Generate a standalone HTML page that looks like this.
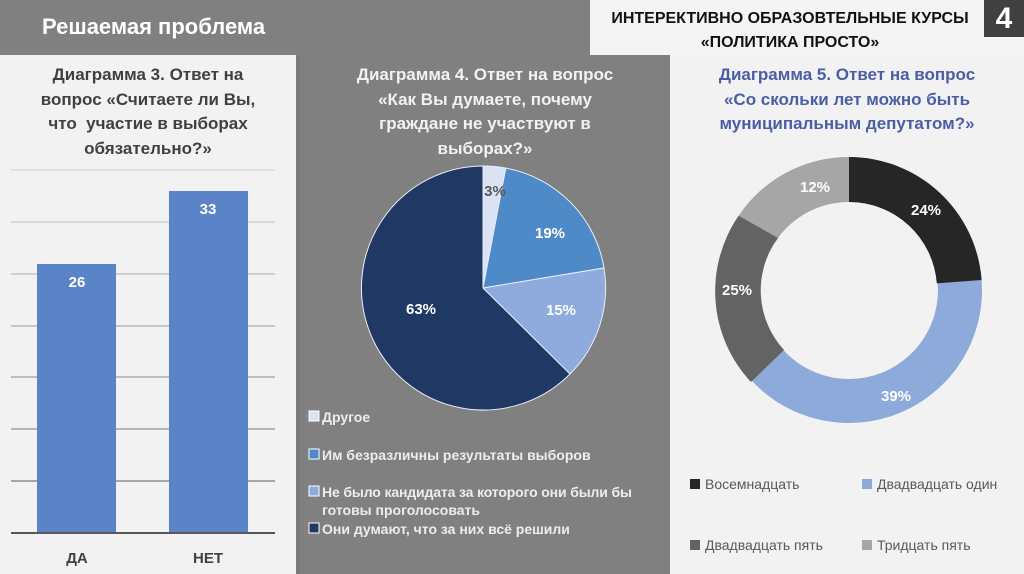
<!DOCTYPE html>
<html><head><meta charset="utf-8"><style>
body{margin:0;width:1024px;height:574px;overflow:hidden;background:#f2f2f2;font-family:"Liberation Sans Narrow","Liberation Sans",sans-serif;position:relative}
.a{position:absolute}
.t{font-weight:bold;font-size:17px;line-height:24.5px;text-align:center}
</style></head><body>
<div class="a" style="left:0;top:0;width:590px;height:55px;background:#808080"></div>
<div class="a" style="left:42px;top:14px;color:#fff;font-size:22px;font-weight:bold">Решаемая проблема</div>
<div class="a" style="left:590px;top:0;width:434px;height:55px;background:#f4f4f4"></div>
<div class="a" style="left:600px;top:7px;width:380px;text-align:center;font-size:16px;font-weight:bold;line-height:24px;color:#111">ИНТЕРЕКТИВНО ОБРАЗОВТЕЛЬНЫЕ КУРСЫ<br>«ПОЛИТИКА ПРОСТО»</div>
<div class="a" style="left:984px;top:0;width:40px;height:37px;background:#404040;color:#fff;font-size:30px;font-weight:bold;text-align:center;line-height:37px">4</div>
<div class="a" style="left:296px;top:55px;width:4px;height:519px;background:#7a7a7a"></div>
<div class="a" style="left:300px;top:55px;width:370px;height:519px;background:#808080"></div>
<div class="a t" style="left:0;top:63px;width:296px;color:#404040">Диаграмма 3. Ответ на<br>вопрос «Считаете ли Вы,<br>что &nbsp;участие в выборах<br>обязательно?»</div>
<div class="a t" style="left:300px;top:63px;width:370px;color:#f2f2f2">Диаграмма 4. Ответ на вопрос<br>«Как Вы думаете, почему<br>граждане не участвуют в<br>выборах?»</div>
<div class="a t" style="left:670px;top:63px;width:354px;color:#4a5ea6">Диаграмма 5. Ответ на вопрос<br>«Со скольки лет можно быть<br>муниципальным депутатом?»</div>
<svg class="a" style="left:0;top:0" width="1024" height="574">
<g stroke-width="1.5">
<line x1="11" x2="275" y1="170" y2="170" stroke="#d9d9d9"/>
<line x1="11" x2="275" y1="222" y2="222" stroke="#cfcfcf"/>
<line x1="11" x2="275" y1="274" y2="274" stroke="#c4c4c4"/>
<line x1="11" x2="275" y1="326" y2="326" stroke="#b8b8b8"/>
<line x1="11" x2="275" y1="377" y2="377" stroke="#acacac"/>
<line x1="11" x2="275" y1="429" y2="429" stroke="#a0a0a0"/>
<line x1="11" x2="275" y1="481" y2="481" stroke="#8c8c8c"/>
</g>
<rect x="37" y="264" width="79" height="269" fill="#5b84c8"/>
<rect x="169" y="191" width="79" height="342" fill="#5b84c8"/>
<line x1="11" x2="275" y1="533" y2="533" stroke="#595959" stroke-width="2"/>
<g font-family="Liberation Sans,sans-serif" font-weight="bold" font-size="15" text-anchor="middle">
<text x="77" y="287" fill="#fff">26</text><text x="208" y="214" fill="#fff">33</text>
<text x="77" y="563" fill="#404040">ДА</text><text x="208" y="563" fill="#404040">НЕТ</text>
</g>
<g stroke="#e8eef8" stroke-width="1">
<path d="M483,288 L483,166 A122,122 0 0 1 505.8,168.1 Z" fill="#dae3f3"/>
<path d="M483,288 L505.8,168.1 A122,122 0 0 1 604,268 Z" fill="#4e8ac8"/>
<path d="M483,288 L604,268 A122,122 0 0 1 570,374 Z" fill="#8faadc"/>
<path d="M483,288 L570,374 A122,122 0 1 1 483,166 Z" fill="#203864"/>
</g>
<g font-family="Liberation Sans,sans-serif" font-weight="bold" font-size="15" text-anchor="middle">
<text x="495" y="196" fill="#595959">3%</text>
<text x="550" y="238" fill="#fff">19%</text>
<text x="561" y="315" fill="#fff">15%</text>
<text x="421" y="314" fill="#fff">63%</text>
</g>
<g font-family="Liberation Sans,sans-serif" font-weight="bold" font-size="14" fill="#ededed">
<rect x="309" y="411" width="10" height="10" fill="#dae3f3" stroke="#fff"/><text x="322" y="422">Другое</text>
<rect x="309" y="449" width="10" height="10" fill="#4e8ac8" stroke="#fff"/><text x="322" y="460">Им безразличны результаты выборов</text>
<rect x="309" y="486" width="10" height="10" fill="#8faadc" stroke="#fff"/><text x="322" y="497" textLength="310">Не было кандидата за которого они были бы</text>
<text x="322" y="515">готовы проголосовать</text>
<rect x="309" y="523" width="10" height="10" fill="#203864" stroke="#fff"/><text x="322" y="534">Они думают, что за них всё решили</text>
</g>
<g transform="translate(849,290)">
<circle r="111" fill="none" stroke="#8eaadb" stroke-width="44"/>
<path d="M0,-133 A133,133 0 0 1 132.6,-10 L87.8,-6.6 A88,88 0 0 0 0,-88 Z" fill="#262626"/>
<path d="M-110.4,-74.2 A133,133 0 0 1 0,-133 L0,-88 A88,88 0 0 0 -71,-52 Z" fill="#a6a6a6"/>
<path d="M-110.4,-74.2 A133,133 0 0 0 -98,92 L-65,60 A88,88 0 0 1 -71,-52 Z" fill="#636363"/>
</g>
<g font-family="Liberation Sans,sans-serif" font-weight="bold" font-size="15" fill="#fff" text-anchor="middle">
<text x="926" y="215">24%</text><text x="896" y="401">39%</text>
<text x="737" y="295">25%</text><text x="815" y="192">12%</text>
</g>
<g font-family="Liberation Sans,sans-serif" font-size="14" fill="#595959">
<rect x="690" y="479" width="10" height="10" fill="#262626"/><text x="705" y="489">Восемнадцать</text>
<rect x="862" y="479" width="10" height="10" fill="#8eaadb"/><text x="877" y="489">Двадвадцать один</text>
<rect x="690" y="540" width="10" height="10" fill="#636363"/><text x="705" y="550">Двадвадцать пять</text>
<rect x="862" y="540" width="10" height="10" fill="#a6a6a6"/><text x="877" y="550">Тридцать пять</text>
</g>
</svg>
</body></html>
